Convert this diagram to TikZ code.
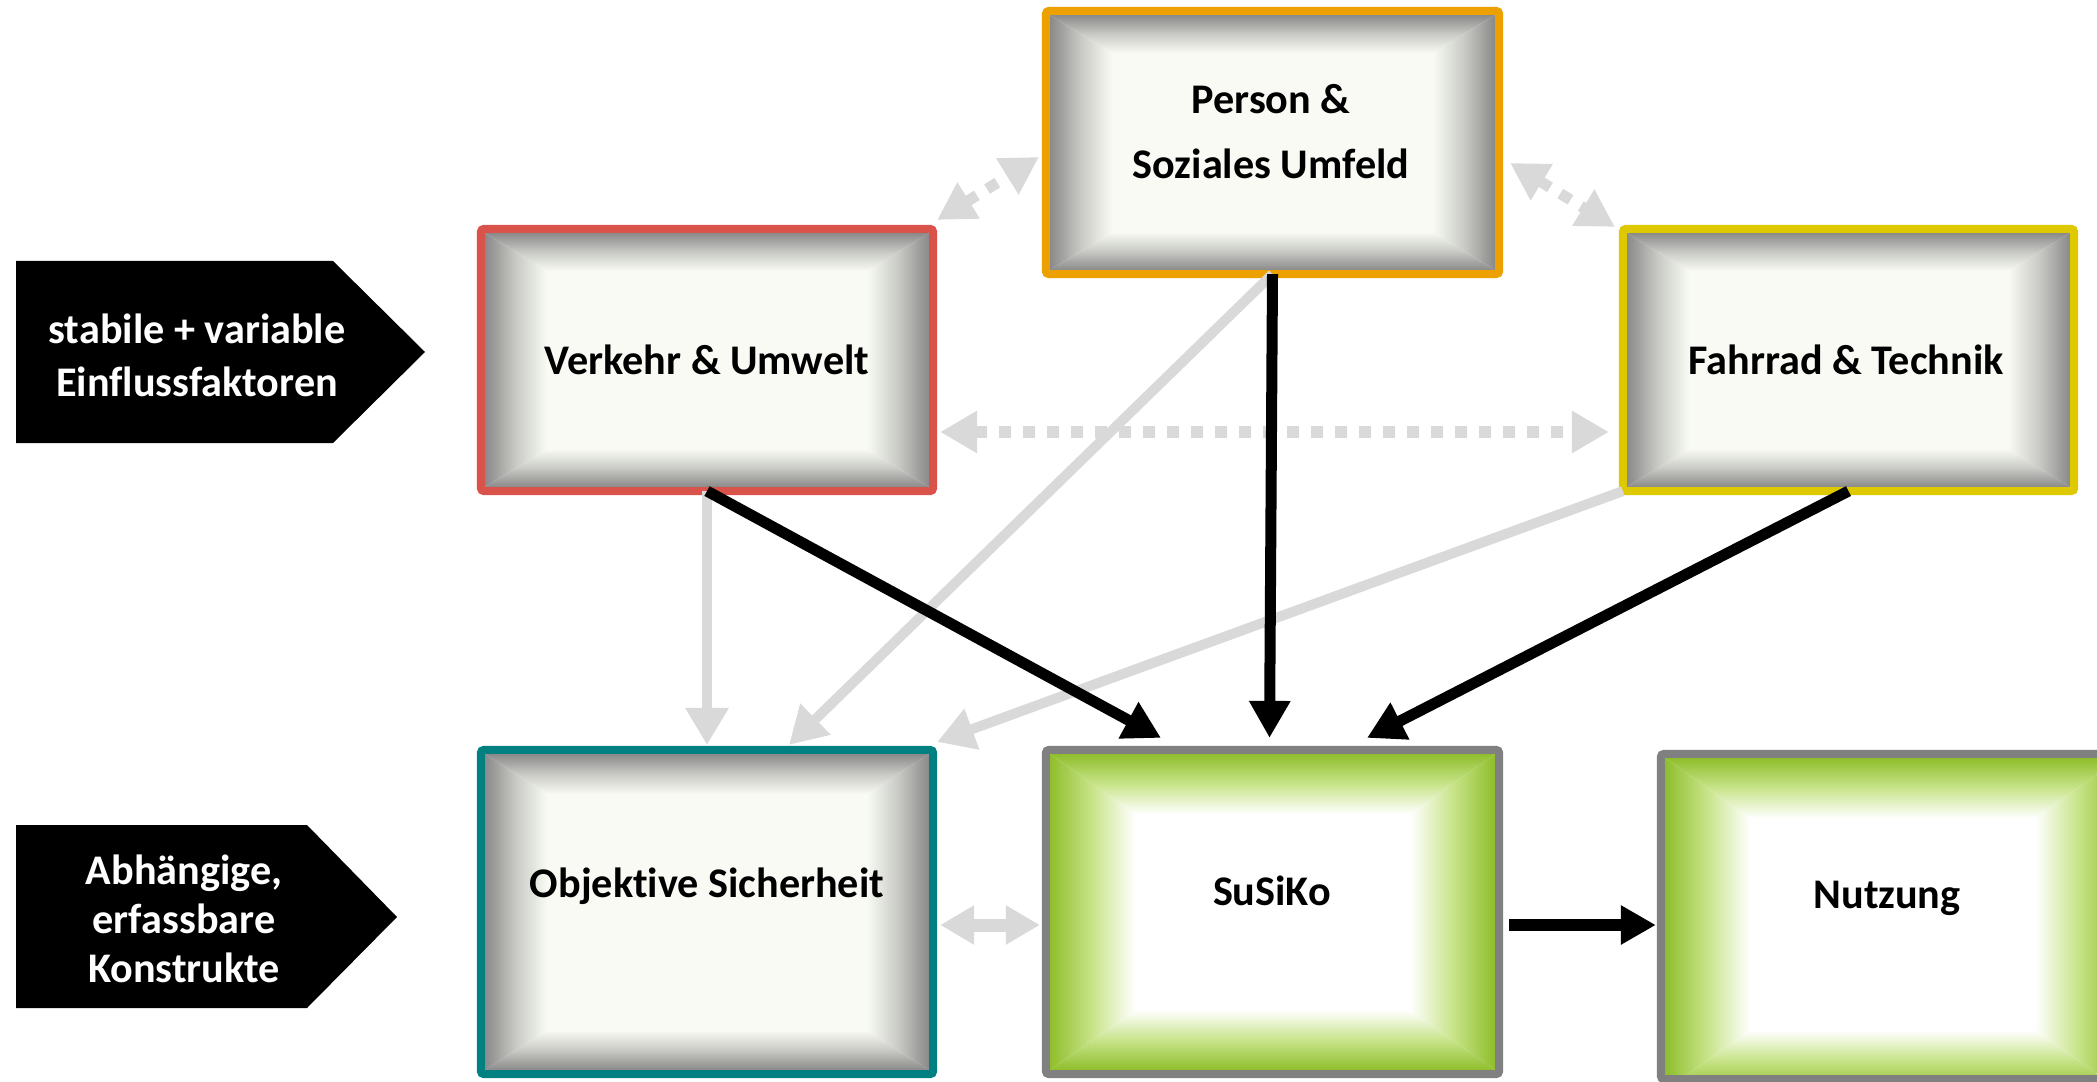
\documentclass[tikz,border=0pt]{standalone}
\usepackage{fontspec}
\setmainfont{Carlito}[Ligatures={NoCommon}]
\usetikzlibrary{arrows.meta,calc}
\definecolor{garrowc}{HTML}{D9D9D9}
\definecolor{gout}{HTML}{8A8A8A}
\definecolor{gmid}{HTML}{C9CAC5}
\definecolor{gin}{HTML}{F8FAF3}
\definecolor{grout}{HTML}{8FBE2C}
\definecolor{grmid}{HTML}{C8E48A}
\definecolor{grin}{HTML}{FFFFFF}
\definecolor{cperson}{HTML}{EDA100}
\definecolor{cverkehr}{HTML}{D9534A}
\definecolor{cfahrrad}{HTML}{DEC800}
\definecolor{cobj}{HTML}{008080}
\definecolor{cgreen}{HTML}{808080}
% #1 x1, #2 y1 (lower left), #3 x2, #4 y2 (upper right), #5 bx, #6 by, #7 outer, #8 mid, #9 inner
\newcommand\bevelfill[9]{%
  \fill[#9] (#1+#5-1,#2+#6-1) rectangle (#3-#5+1,#4-#6+1);
  \shade[top color=#7, bottom color=#9, middle color=#8] (#1,#4)--(#3,#4)--(#3-#5,#4-#6)--(#1+#5,#4-#6)--cycle;
  \shade[bottom color=#7, top color=#9, middle color=#8] (#1,#2)--(#3,#2)--(#3-#5,#2+#6)--(#1+#5,#2+#6)--cycle;
  \shade[left color=#7, right color=#9, middle color=#8] (#1,#2)--(#1+#5,#2+#6)--(#1+#5,#4-#6)--(#1,#4)--cycle;
  \shade[right color=#7, left color=#9, middle color=#8] (#3,#2)--(#3-#5,#2+#6)--(#3-#5,#4-#6)--(#3,#4)--cycle;
}
\begin{document}
\begin{tikzpicture}[x=0.01cm,y=0.01cm,
  box/.style={draw=#1, line width=0.08cm, rounded corners=0.03cm, inner sep=0pt, outer sep=0pt},
  txt/.style={font=\bfseries\fontsize{12pt}{18.5pt}\selectfont, align=center, inner sep=0pt},
  wtxt/.style={font=\bfseries\fontsize{12pt}{15pt}\selectfont, align=center, inner sep=0pt, text=white},
  garrow/.style={draw=garrowc, line width=0.1cm, -{Triangle[length=0.37cm,width=0.41cm]}},
  barrow/.style={draw=black, line width=0.11cm, -{Triangle[length=0.37cm,width=0.39cm]}},
  dotarrow/.style={draw=garrowc, line width=0.11cm, dash pattern=on 0.12cm off 0.12cm,
     {Triangle[length=0.37cm,width=0.40cm]}-{Triangle[length=0.37cm,width=0.40cm]}},
  dblarrow/.style={draw=garrowc, line width=0.13cm,
     {Triangle[length=0.34cm,width=0.37cm]}-{Triangle[length=0.34cm,width=0.37cm]}},
  bigarrow/.style={draw=black, line width=0.12cm, -{Triangle[length=0.35cm,width=0.37cm]}}
]
\useasboundingbox (0,0) rectangle (2097,1081);

% label arrows
\fill[black] (16,820) -- (333,820) -- (425,729) -- (333,638) -- (16,638) -- cycle;
\node[wtxt] (lab1) at (197,726) {stabile + variable\\Einflussfaktoren};
\fill[black] (16,256) -- (307,256) -- (397,164) -- (307,73) -- (16,73) -- cycle;
\node[wtxt, font=\bfseries\fontsize{12pt}{14pt}\selectfont] (lab2) at (184,162) {Abhängige,\\erfassbare\\Konstrukte};

% bevel fills
\bevelfill{1050}{811}{1495}{1066}{62}{38}{gout}{gmid}{gin}
\bevelfill{485}{594}{929}{848}{62}{38}{gout}{gmid}{gin}
\bevelfill{1627}{594}{2070}{848}{62}{38}{gout}{gmid}{gin}
\bevelfill{485}{11}{929}{327}{62}{40}{gout}{gmid}{gin}
\bevelfill{1050}{11}{1495}{327}{85}{60}{grout}{grmid}{grin}
\bevelfill{1665}{-9}{2120}{323}{85}{60}{grout}{grmid}{grin}
\fill[grout] (2119,-9) rectangle (2160,323);

% box borders
\node[box=cperson, minimum width=4.53cm, minimum height=2.63cm] (person) at (1272.5,938.5) {};
\node[box=cverkehr, minimum width=4.52cm, minimum height=2.62cm] (verkehr) at (707,721) {};
\node[box=cfahrrad, minimum width=4.51cm, minimum height=2.62cm] (fahrrad) at (1848.5,721) {};
\node[box=cobj, minimum width=4.52cm, minimum height=3.24cm] (objektive) at (707,169) {};
\node[box=cgreen, minimum width=4.53cm, minimum height=3.24cm] (susiko) at (1272.5,169) {};
\node[box=cgreen, minimum width=5.0cm, minimum height=3.25cm] (nutzung) at (1911,164.5) {};

% texts
\node[txt] (persontext) at (1271,949) {Person \&\\Soziales Umfeld};
\node[txt, anchor=base] (verkehrtext) at (707,706) {Verkehr \& Umwelt};
\node[txt, anchor=base] (fahrradtext) at (1846,706) {Fahrrad \& Technik};
\node[txt, anchor=base] (objtext) at (707,184) {Objektive Sicherheit};
\node[txt, anchor=base] (susikotext) at (1272,176) {SuSiKo};
\node[txt, anchor=base] (nutzungtext) at (1887,173) {Nutzung};

% gray connectors
\draw[garrow] (verkehr.south) -- ($(objektive.north)+(0,5)$);
\draw[garrow] (person.south) -- ($(objektive.north)+(82,5)$);
\draw[garrow] (fahrrad.south west) -- ($(objektive.north east)+(4,8)$);
\draw[dblarrow] ($(objektive.east)+(7,-13)$) -- ($(susiko.west)+(-6,-13)$);
\draw[dotarrow] ($(verkehr.north east)+(4,9)$) -- ($(person.west)+(-7,-14.5)$);
\draw[dotarrow] ($(person.east)+(11,-20.5)$) -- ($(fahrrad.north west)+(-8,2)$);
\draw[dotarrow] ($(verkehr.east)+(7,-72)$) -- ($(fahrrad.west)+(-14,-72)$);

% black connectors
\draw[barrow] (verkehr.south) -- ($(susiko.north)+(-111.5,12)$);
\draw[barrow] (person.south) -- ($(susiko.north)+(-3,12)$);
\draw[barrow] (fahrrad.south) -- ($(susiko.north)+(94.5,12)$);
\draw[bigarrow] ($(susiko.east)+(10,-13)$) -- ($(nutzung.west)+(-5,-8.5)$);
\end{tikzpicture}
\end{document}
